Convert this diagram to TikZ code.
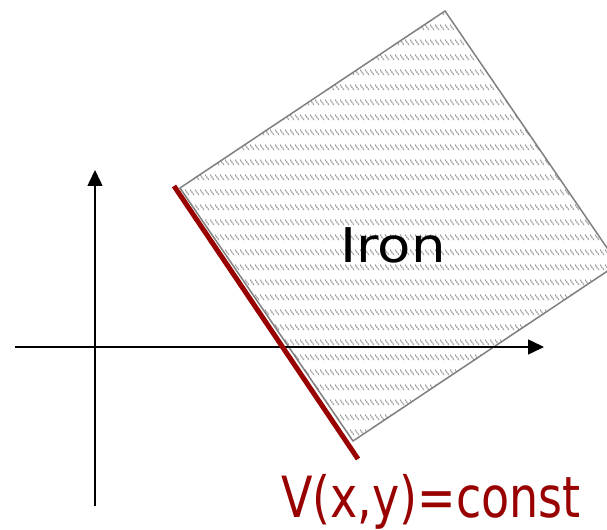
\documentclass[tikz,border=0pt]{standalone}
\usepackage{fontspec}
\setmainfont{DejaVu Sans}
\usetikzlibrary{patterns,arrows.meta}
\definecolor{ironred}{HTML}{990000}
\definecolor{hatchgray}{HTML}{999999}
\pgfdeclarepatternformonly{ironhatch}{\pgfqpoint{0bp}{0bp}}{\pgfqpoint{5bp}{15bp}}{\pgfqpoint{5bp}{15bp}}{%
  \pgfsetlinewidth{1.3bp}%
  \pgfsetdash{{1.8bp}{0.8bp}}{0bp}%
  \pgfpathmoveto{\pgfqpoint{0bp}{11bp}}%
  \pgfpathlineto{\pgfqpoint{5bp}{5bp}}%
  \pgfusepath{stroke}%
}
\tikzset{
  axis/.style={line width=1.5bp, -{Triangle[length=16bp,width=15bp]}},
  ironblock/.style={draw=gray, line width=1.5bp, pattern=ironhatch, pattern color=hatchgray},
  boundary/.style={draw=ironred, line width=5bp},
  lbl/.style={inner sep=0pt, anchor=base}
}
\begin{document}
\begin{tikzpicture}[x=1bp,y=-1bp]
\useasboundingbox (0,0) rectangle (607,530);
\coordinate (T) at (445,11);
\coordinate (L) at (180,188);
\coordinate (B) at (353,441);
\coordinate (R) at (618,264);
\begin{scope}
\clip (0,0) rectangle (607,530);
\draw[ironblock] (T) -- (L) -- (B) -- (R) -- cycle;
\end{scope}
\coordinate (xs) at (15,347);
\coordinate (xe) at (544,347);
\coordinate (ys) at (95,506);
\coordinate (ye) at (95,170);
\draw[axis] (xs) -- (xe);
\draw[axis] (ys) -- (ye);
\coordinate (r1) at (174,186);
\coordinate (r2) at (358,459);
\draw[boundary] (r1) -- (r2);
\node[lbl] (iron) at (393,262) {\scalebox{1.14}[1]{\fontsize{48}{50}\selectfont Iron}};
\node[lbl, text=ironred] (vlabel) at (431,517) {\scalebox{0.81}[1]{\fontsize{57}{60}\selectfont V(x,y)=const}};
\end{tikzpicture}
\end{document}
